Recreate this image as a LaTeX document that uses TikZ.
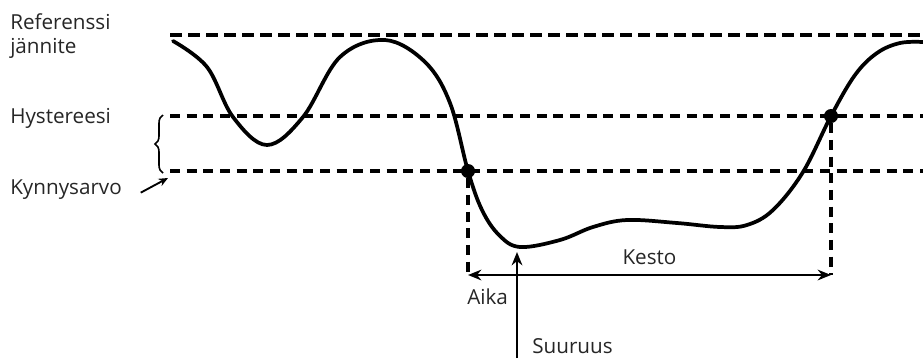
\documentclass[tikz,border=0pt]{standalone}
\usepackage{fontspec}
\setmainfont{Open Sans}
\usetikzlibrary{arrows.meta, decorations.pathreplacing}

\begin{document}
\begin{tikzpicture}[
    x=0.75pt, y=-0.75pt,  % 1 unit = 1 px, y downwards
    >=Stealth,
    refline/.style = {line width = 3.4pt, dash pattern = on 9pt off 4.5pt},
    hystline/.style = {line width = 2.4pt, dash pattern = on 7.5pt off 5pt},
    curve/.style = {line width = 2.8pt, line cap = round},
    dot/.style = {circle, fill = black, inner sep = 0pt, minimum size = 10.5pt},
    lbl/.style = {font = \fontsize{15.5}{18}\selectfont, text = black!85, inner sep = 0pt},
    arrow/.style = {line width = 1.8pt, -{Stealth[length = 10pt, width = 8pt]}}
]

\useasboundingbox (0,0) rectangle (923,358);

% --- Level lines ---
\coordinate (refL) at (170,35);
\coordinate (refR) at (923,35);
\coordinate (hysL) at (170,116);
\coordinate (hysR) at (923,116);
\coordinate (thrL) at (170,171);
\coordinate (thrR) at (923,171);

\draw[refline]  (refL) -- (refR);
\draw[hystline] (hysL) -- (hysR);
\draw[hystline] (thrL) -- (thrR);

% --- Voltage curve ---
\draw[curve] plot[smooth, tension = 0.6] coordinates {
    (173,41) (207,67) (233,117) (267,145) (303,117) (340,57) (385,40)
    (425,62) (450,103) (468,171) (482,210) (499,235) (520,247) (560,240)
    (593,227) (627,220) (677,223) (720,227) (747,225) (773,210) (803,172)
    (831,116) (855,75) (877,53) (900,43) (923,42)};

% --- Crossing points ---
\node[dot] (start) at (468,171) {};
\node[dot] (stop)  at (831,116) {};

\coordinate (startb) at (468,275);
\coordinate (stopb)  at (831,275);

\draw[hystline] (start) -- (startb);
\draw[hystline] (stop)  -- (stopb);

% --- Duration and magnitude ---
\draw[line width = 1.8pt, {Stealth[length = 10pt, width = 8pt]}-{Stealth[length = 10pt, width = 8pt]}]
    (startb) -- node[lbl, above = 7pt]{Kesto} (stopb);

\coordinate (minpt)  at (517,252);
\coordinate (minbot) at (517,358);
\draw[arrow] (minbot) -- (minpt);

% --- Labels ---
\node[lbl, anchor = west] (reflabel)  at (10,22)  {Referenssi};
\node[lbl, anchor = west] (reflabel2) at (10,48)  {jännite};
\node[lbl, anchor = west] (hyslabel)  at (10,118) {Hystereesi};
\node[lbl, anchor = west] (thrlabel)  at (10,190) {Kynnysarvo};
\node[lbl, anchor = west] (timelabel) at (467,297) {Aika};
\node[lbl, anchor = west] (maglabel)  at (532,346) {Suuruus};

% --- Hysteresis brace and threshold pointer ---
\draw[line width = 1.2pt, decorate, decoration = {brace, amplitude = 6pt}]
    (163,173) -- (163,115);

\coordinate (thrtip) at (168,178);
\draw[line width = 1.4pt, -{Stealth[length = 7pt, width = 6pt]}] ([xshift = 14pt, yshift = -2pt]thrlabel.east) -- (thrtip);

\end{tikzpicture}
\end{document}
